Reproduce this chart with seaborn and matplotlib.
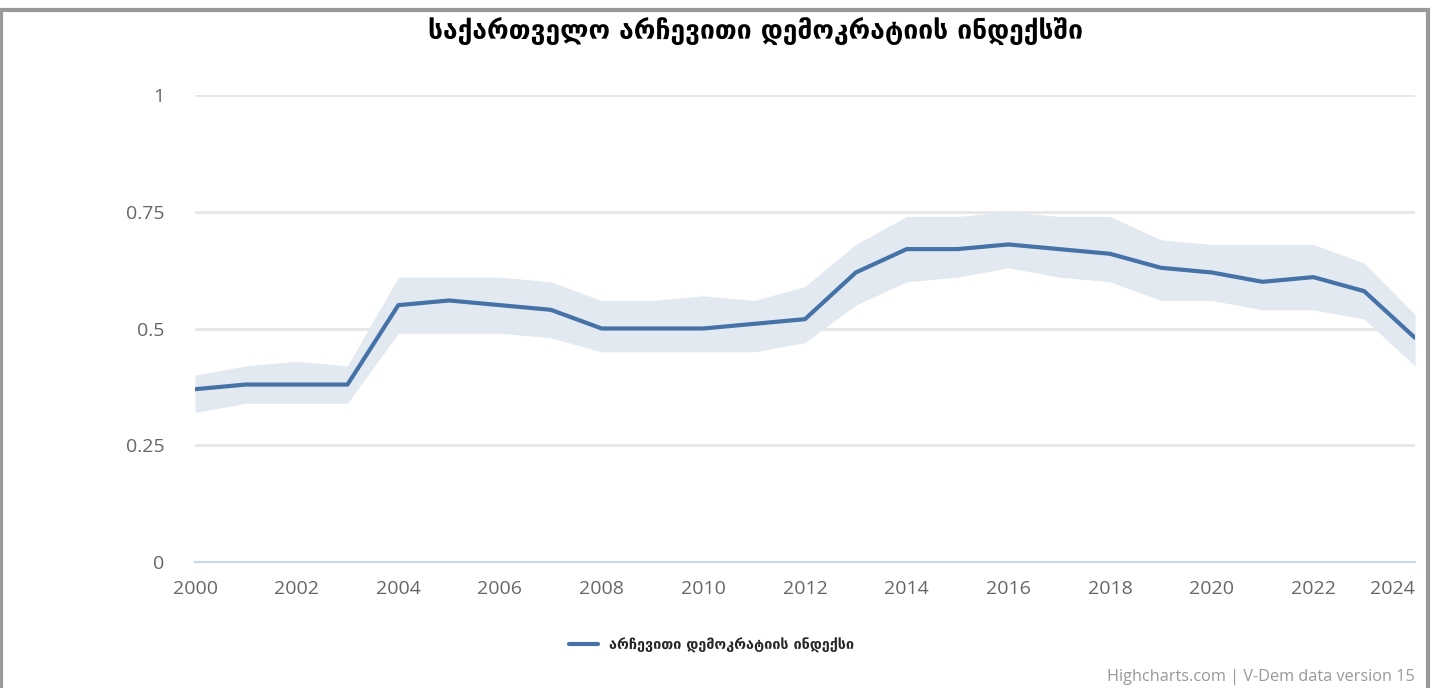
import numpy as np
import pandas as pd
import matplotlib
matplotlib.use("Agg")
import matplotlib.pyplot as plt
import seaborn as sns
from matplotlib.patches import Rectangle

# =========================
# DATA
# =========================

years = list(range(2000, 2025))

index_values = [0.37, 0.38, 0.38, 0.38, 0.55, 0.56, 0.55, 0.54, 0.50, 0.50,
                0.50, 0.51, 0.52, 0.62, 0.67, 0.67, 0.68, 0.67, 0.66, 0.63,
                0.62, 0.60, 0.61, 0.58, 0.48]

upper_values = [0.40, 0.42, 0.43, 0.42, 0.61, 0.61, 0.61, 0.60, 0.56, 0.56,
                0.57, 0.56, 0.59, 0.68, 0.74, 0.74, 0.75, 0.74, 0.74, 0.69,
                0.68, 0.68, 0.68, 0.64, 0.53]

lower_values = [0.32, 0.34, 0.34, 0.34, 0.49, 0.49, 0.49, 0.48, 0.45, 0.45,
                0.45, 0.45, 0.47, 0.55, 0.60, 0.61, 0.63, 0.61, 0.60, 0.56,
                0.56, 0.54, 0.54, 0.52, 0.42]

y_ticks = [0, 0.25, 0.5, 0.75, 1]
y_tick_labels = ["0", "0.25", "0.5", "0.75", "1"]
x_ticks = list(range(2000, 2025, 2)) + [2024]

title = "საქართველო არჩევითი დემოკრატიის ინდექსში"
series_name = "არჩევითი დემოკრატიის ინდექსი"
credits = "Highcharts.com | V-Dem data version 15"

df = pd.DataFrame({"year": years, "value": index_values,
                   "upper": upper_values, "lower": lower_values})

# =========================
# STYLE
# =========================

sns.set_style("white")
plt.rcParams['font.family'] = ['DejaVu Sans']

line_color = "#4572a7"
band_color = "#e3e9f1"
grid_color = "#e6e6e6"
axis_color = "#ccd6eb"
label_color = "#666666"

# =========================
# FIGURE
# =========================

fig = plt.figure(figsize=(14.32, 6.88), dpi=100)
ax = fig.add_axes([195 / 1432, 1 - 562 / 688, 1220 / 1432, 467 / 688])

ax.fill_between(df["year"], df["lower"], df["upper"],
                color=band_color, linewidth=0, zorder=2)

sns.lineplot(data=df, x="year", y="value", ax=ax, color=line_color,
             linewidth=3, label=series_name, zorder=3)

for t in y_ticks[1:]:
    ax.axhline(t, color=grid_color, linewidth=2, zorder=1)

ax.set_xlim(2000, 2024)
ax.set_ylim(0, 1)

ax.set_yticks(y_ticks)
ax.set_yticklabels(y_tick_labels, family="Open Sans", fontsize=14,
                   color=label_color)
ax.set_xticks(x_ticks)
ax.set_xticklabels([str(x) for x in x_ticks], family="Open Sans",
                   fontsize=14, color=label_color)

# last label squeezed inside the plot edge, like highcharts does
labels = ax.get_xticklabels()
labels[-2].set_visible(False)
labels[-1].set_horizontalalignment("right")

ax.tick_params(axis="y", length=0, pad=22)
ax.tick_params(axis="x", length=9, width=1.2, color=axis_color, pad=4)

for side in ["top", "right", "left"]:
    ax.spines[side].set_visible(False)
ax.spines["bottom"].set_color(axis_color)
ax.spines["bottom"].set_linewidth(1.5)
ax.spines["bottom"].set_zorder(4)

ax.set_xlabel("")
ax.set_ylabel("")

# title
fig.text(756 / 1432, 1 - 32 / 688, title, ha="center", va="center",
         fontsize=19, fontweight="bold", color="#000000")

# legend
ax.legend(loc="center", bbox_to_anchor=(0.497, 1 - 645 / 688),
          bbox_transform=fig.transFigure, frameon=False,
          prop={"size": 10.4, "weight": "bold"}, handlelength=2.0)

# credits
fig.text(1 - 17 / 1432, 1 - 677 / 688, credits, ha="right", va="center",
         family="Open Sans", fontsize=11.7, color="#999999")

# outer border
fig.patches.append(Rectangle((1 / 1432, -0.01), 1 - 5 / 1432, 1 - 3 / 688,
                             transform=fig.transFigure, fill=False,
                             edgecolor="#999999", linewidth=3))

fig.savefig("out.png", dpi=100, facecolor="white")
